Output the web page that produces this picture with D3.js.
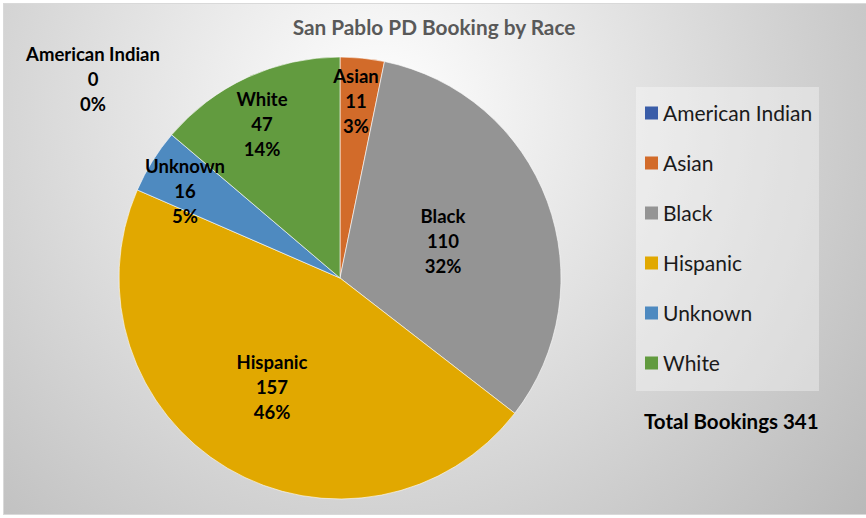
<!DOCTYPE html>
<html><head><meta charset="utf-8">
<script src="https://cdn.jsdelivr.net/npm/d3@7/dist/d3.min.js"></script>
<style>body{margin:0;background:#fff}svg{display:block}</style>
</head><body>
<svg id="c" width="866" height="518"></svg>
<script>
const categories = ["American Indian","Asian","Black","Hispanic","Unknown","White"];
const values = [0, 11, 110, 157, 16, 47];
const colors = ["#3A5DA8","#D26B2A","#949494","#E1A800","#4E8AC0","#629B3F"];
const title = "San Pablo PD Booking by Race";
const totalLabel = "Total Bookings 341";
// label anchor positions (centre of 3-line label block)
const labelPos = [[93,79],[356,101],[443,241],[272,387],[185,191],[262,124]];

const svg = d3.select("#c");
const defs = svg.append("defs");
const grad = defs.append("radialGradient").attr("id","bg")
  .attr("gradientUnits","userSpaceOnUse").attr("cx",380).attr("cy",110).attr("r",640);
grad.append("stop").attr("offset","0%").attr("stop-color","#ffffff");
grad.append("stop").attr("offset","100%").attr("stop-color","#b8b8b8");

svg.append("rect").attr("x",3.5).attr("y",3.5).attr("width",866).attr("height",511)
  .attr("fill","url(#bg)").attr("stroke","#d9d9d9").attr("stroke-width",1);

svg.append("text").attr("x",434).attr("y",35).attr("text-anchor","middle")
  .attr("font-family","Lato").attr("font-weight","bold").attr("font-size",20.8)
  .attr("fill","#595959").text(title);

const cx = 340, cy = 278, R = 221;
const pie = d3.pie().sort(null).value(d=>d)(values);
const arc = d3.arc().innerRadius(0).outerRadius(R);
const g = svg.append("g").attr("transform",`translate(${cx},${cy})`);
g.selectAll("path").data(pie).join("path")
  .attr("d",arc).attr("fill",(d,i)=>colors[i])
  .attr("stroke","#ffffff").attr("stroke-width",0.6);

const total = d3.sum(values);
const fmt = d3.format(".0%");
categories.forEach((c,i)=>{
  const [x,y] = labelPos[i];
  const t = svg.append("text").attr("x",x).attr("text-anchor","middle")
    .attr("font-family","Lato").attr("font-weight","bold").attr("font-size",18.5).attr("fill","#000");
  [c, String(values[i]), fmt(values[i]/total)].forEach((s,k)=>{
    t.append("tspan").attr("x",x).attr("y",y-25+k*25+7).text(s);
  });
});

// legend
svg.append("rect").attr("x",636).attr("y",87).attr("width",183).attr("height",304)
  .attr("fill","#ffffff").attr("fill-opacity",0.35);
const lg = svg.append("g");
categories.forEach((c,i)=>{
  const y = 113 + i*50;
  lg.append("rect").attr("x",645).attr("y",y-6.5).attr("width",13).attr("height",13).attr("fill",colors[i]);
  lg.append("text").attr("x",663).attr("y",y+7.5).attr("font-family","Lato").attr("font-size",21)
    .attr("fill","#1a1a1a").text(c);
});
svg.append("text").attr("x",644).attr("y",429).attr("font-family","Lato").attr("font-weight","bold")
  .attr("font-size",20.5).attr("fill","#000").text(totalLabel);
</script>
</body></html>
